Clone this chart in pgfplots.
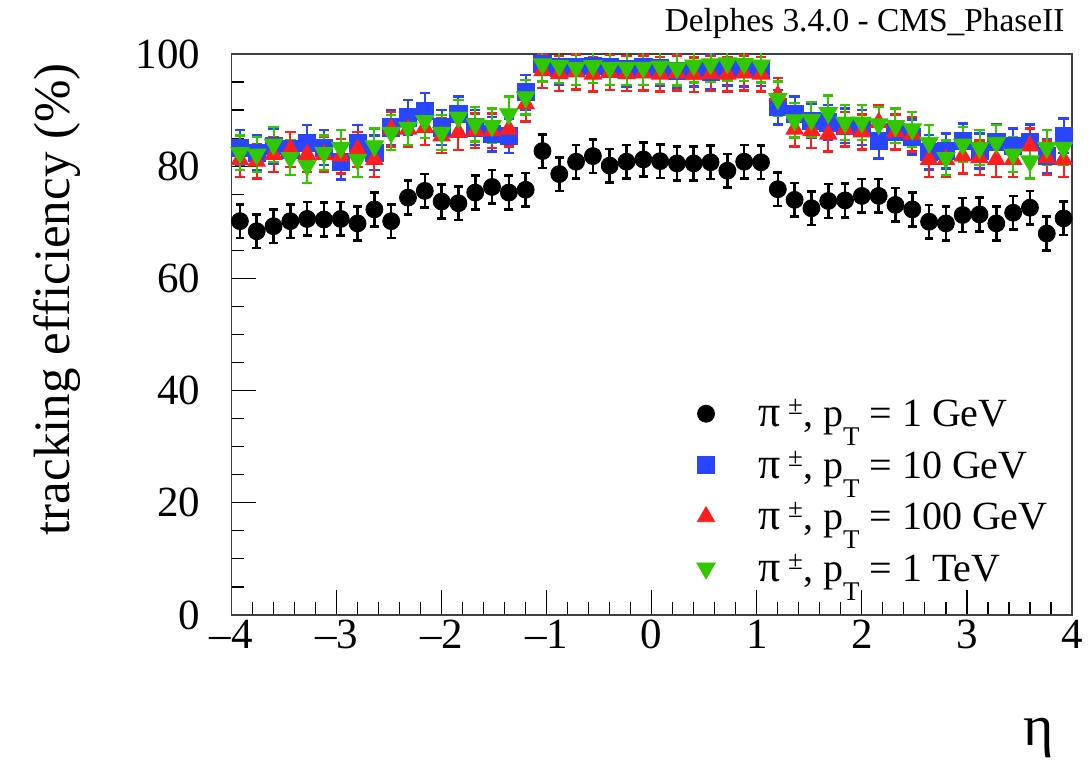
\documentclass[border=0pt]{standalone}
\usepackage{fontspec}
\setmainfont{Liberation Serif}
\usepackage{pgfplots}
\pgfplotsset{compat=1.18}
\usepackage{pgfplotstable}

\definecolor{rblue}{RGB}{40,70,255}
\definecolor{rred}{RGB}{255,30,30}
\definecolor{rgreen}{RGB}{50,200,0}

% eta centres, efficiencies (%) for pi+- at pT = 1, 10, 100 GeV, 1 TeV
\pgfplotstableread{
x      blk   blu   red   grn
-3.92  70.2  83.3  81.2  82.4
-3.76  68.4  82.4  80.9  82.1
-3.60  69.3  83.6  82.1  83.9
-3.44  70.2  83.0  83.0  81.5
-3.28  70.6  84.2  82.1  80.1
-3.12  70.5  83.3  82.1  82.4
-2.96  70.6  80.7  81.8  83.3
-2.80  69.8  84.2  83.0  81.2
-2.64  72.3  82.4  81.2  83.6
-2.48  70.2  86.9  86.6  86.0
-2.32  74.4  88.7  86.6  86.9
-2.16  75.6  89.9  86.9  88.1
-2.00  73.7  86.9  85.4  86.0
-1.84  73.4  89.3  86.0  88.7
-1.68  75.3  86.9  86.3  87.5
-1.52  76.3  85.7  86.3  87.2
-1.36  75.3  85.4  86.6  89.3
-1.20  75.8  93.2  91.1  92.3
-1.04  82.7  98.2  97.0  98.2
-0.88  78.6  97.6  96.5  97.9
-0.72  80.8  97.6  96.8  97.6
-0.56  81.8  97.9  96.4  97.9
-0.40  80.1  97.6  96.7  97.6
-0.24  80.8  97.3  96.5  97.6
-0.08  81.2  97.6  96.6  97.6
 0.08  80.9  97.5  96.4  97.8
 0.24  80.5  97.0  96.6  97.5
 0.40  80.5  97.3  96.3  98.0
 0.56  80.7  96.8  96.5  98.2
 0.72  79.2  97.5  96.4  98.4
 0.88  80.8  97.3  96.6  98.3
 1.04  80.7  97.4  96.4  98.0
 1.20  75.9  90.5  92.6  92.0
 1.36  74.0  89.3  86.6  88.2
 1.52  72.5  88.1  86.3  88.3
 1.68  73.8  87.8  85.7  89.5
 1.84  73.9  87.2  86.6  87.8
 2.00  74.7  86.9  86.1  87.8
 2.16  74.7  84.5  87.8  87.5
 2.32  73.1  86.1  86.1  87.2
 2.48  72.3  85.2  85.7  86.6
 2.64  70.1  82.5  81.2  84.2
 2.80  69.8  82.7  81.2  81.5
 2.96  71.3  84.5  81.8  83.9
 3.12  71.4  82.7  81.5  83.3
 3.28  69.8  84.3  81.2  84.2
 3.44  71.7  83.6  81.2  82.1
 3.60  72.6  84.3  83.6  80.9
 3.76  68.0  81.8  81.5  83.3
 3.92  70.7  85.4  81.2  83.3
}\effdata

\newcommand{\legtxt}[1]{{\fontsize{22}{23}\selectfont π}\hspace{4pt}\raisebox{6pt}{\fontsize{13.5}{14}\selectfont ±}, p\raisebox{-9.5pt}{\fontsize{13.5}{14}\selectfont T} = #1}

\begin{document}
\begin{tikzpicture}
\path[use as bounding box] (-115.75pt,-74.5pt) rectangle (428.25pt,307.5pt);
\begin{axis}[
  at={(0pt,0pt)}, anchor=south west,
  width=420.25pt, height=280.5pt, scale only axis,
  xmin=-4, xmax=4, ymin=0, ymax=100,
  xtick={-4,-3,-2,-1,0,1,2,3,4},
  xticklabels={–4,–3,–2,–1,0,1,2,3,4},
  ytick={0,20,40,60,80,100},
  minor x tick num=4, minor y tick num=3,
  tick pos=left, tick align=inside,
  major tick length=12.5pt, minor tick length=6.5pt,
  every tick/.style={black, line width=0.6pt},
  axis line style={black!75, line width=0.8pt},
  /pgf/number format/assume math mode=true,
  ticklabel style={font=\fontsize{21.5}{24}\selectfont},
  yticklabel style={xshift=-12pt},
  xticklabel style={yshift=1pt},
  ylabel={tracking efficiency (\%)},
  ylabel style={at={(rel axis cs:-0.2076,0.996)}, anchor=east, font=\fontsize{25.5}{28}\selectfont},
  xlabel={η},
  xlabel style={at={(rel axis cs:0.9865,-0.2335)}, anchor=base east, font=\fontsize{29}{31}\selectfont},
  legend cell align=left,
  legend style={draw=none, fill=none, inner sep=0pt, outer sep=0pt,
    at={(rel axis cs:0.5408,0.3886)}, anchor=north west,
    font=\fontsize{20}{23}\selectfont,
    row sep=0pt, column sep=16pt,
    nodes={inner sep=0pt, text height=15pt, text depth=10.75pt}},
  legend image code/.code={\path[draw=none, fill=none] (-10pt,-5pt) rectangle (10pt,5pt); \draw[#1] plot coordinates {(0pt,4.5pt)};},
  error bars/y dir=both,
]
\addplot[only marks, black, mark=*, mark size=4.25pt,
  error bars/y fixed=3,
  error bars/error bar style={black, line width=1.3pt},
  error bars/error mark options={black, line width=1.3pt, mark size=2.2pt, rotate=90}]
  table[x=x, y=blk] {\effdata};
\addlegendentry{\legtxt{1 GeV}}
\addplot[only marks, rblue, mark=square*, mark size=4.3pt,
  error bars/y fixed=3.1,
  error bars/error bar style={rblue, line width=1pt},
  error bars/error mark options={rblue, line width=1.2pt, mark size=2.6pt, rotate=90}]
  table[x=x, y=blu] {\effdata};
\addlegendentry{\legtxt{10 GeV}}
\addplot[only marks, rred, mark=triangle*, mark size=5pt,
  error bars/y fixed=3.1,
  error bars/error bar style={rred, line width=1pt},
  error bars/error mark options={rred, line width=1.2pt, mark size=2.6pt, rotate=90}]
  table[x=x, y=red] {\effdata};
\addlegendentry{\legtxt{100 GeV}}
\addplot[only marks, rgreen, mark=triangle*, mark size=5.3pt, mark options={rotate=180},
  error bars/y fixed=3.1,
  error bars/error bar style={rgreen, line width=1pt},
  error bars/error mark options={rgreen, line width=1.2pt, mark size=2.6pt, rotate=90}]
  table[x=x, y=grn] {\effdata};
\addlegendentry{\legtxt{1 TeV}}
\end{axis}
\node[anchor=base east, font=\fontsize{16.7}{19}\selectfont, inner sep=0pt] at (416.75pt,291.5pt) {Delphes 3.4.0 - CMS\_PhaseII};
\end{tikzpicture}
\end{document}
